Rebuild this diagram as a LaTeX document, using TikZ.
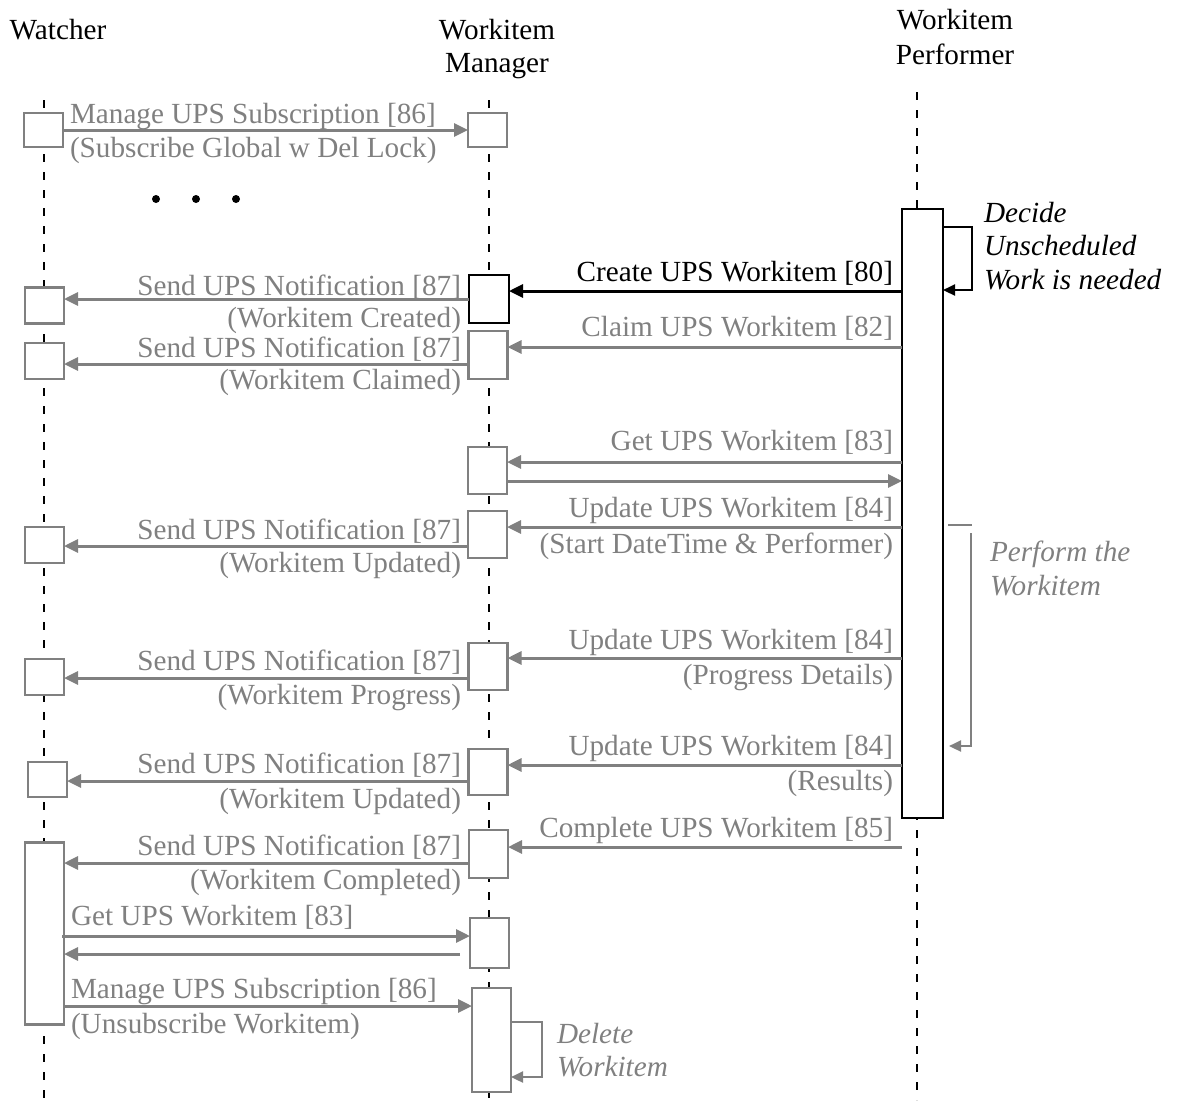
\documentclass[tikz,border=0pt]{standalone}
\usepackage{fontspec}
\setmainfont{Liberation Serif}
\usetikzlibrary{arrows.meta}
\definecolor{gr}{RGB}{128,128,128}
\begin{document}
\begin{tikzpicture}[x=0.5pt,y=-0.5pt,
  every node/.style={inner sep=0pt, outer sep=0pt},
  lbl/.style={font=\fontsize{14.6}{17}\selectfont},
  glbl/.style={lbl, text=gr},
  note/.style={lbl, font=\fontsize{14.6}{17}\selectfont\itshape, anchor=base west},
  gbox/.style={draw=gr, fill=white, line width=1.2pt, minimum width=19.5pt},
  bbox/.style={draw=black, fill=white, line width=1.2pt, minimum width=20pt},
  garr/.style={draw=gr, line width=1.5pt, -{Triangle[length=7pt,width=6.5pt]}},
  barr/.style={draw=black, line width=1.5pt, -{Triangle[length=7pt,width=6.5pt]}},
  gloop/.style={draw=gr, line width=1.1pt, -{Triangle[length=6pt,width=5.5pt]}},
  bloop/.style={draw=black, line width=1.1pt, -{Triangle[length=6pt,width=5.5pt]}},
  lifeline/.style={draw=black, line width=0.9pt, dash pattern=on 4pt off 5pt},
  dotn/.style={circle, fill=black, minimum size=4pt}
]
\useasboundingbox (0,0) rectangle (1177,1100);

% headers
\node[lbl, anchor=base] (hW) at (58,39) {Watcher};
\node[lbl, anchor=base] (hM1) at (497,39) {Workitem};
\node[lbl, anchor=base] (hM2) at (497,72) {Manager};
\node[lbl, anchor=base] (hP1) at (955,29) {Workitem};
\node[lbl, anchor=base] (hP2) at (955,64) {Performer};

% lifelines
\coordinate (wtop) at (44,100); \coordinate (wbot) at (44,1100);
\coordinate (mtop) at (489,100); \coordinate (mbot) at (489,1100);
\coordinate (ptop) at (917,92); \coordinate (pbot) at (917,1100);
\draw[lifeline] (wtop) -- (wbot);
\draw[lifeline] (mtop) -- (mbot);
\draw[lifeline] (ptop) -- (pbot);

% activation boxes
\node[gbox, minimum height=17pt] (w1) at (43.5,130) {};
\node[gbox, minimum height=17pt] (m1) at (487.5,130) {};
\node[bbox, minimum height=24pt] (m2) at (489,299) {};
\node[gbox, minimum height=18pt] (w2) at (44.5,305.5) {};
\node[gbox, minimum height=24pt] (m3) at (488,355) {};
\node[gbox, minimum height=18pt] (w3) at (44.5,361) {};
\node[gbox, minimum height=23.5pt] (m4) at (487.5,470.5) {};
\node[gbox, minimum height=23.5pt] (m5) at (487.5,534.5) {};
\node[gbox, minimum height=18pt] (w4) at (44.5,545) {};
\node[gbox, minimum height=23.5pt] (m6) at (488,666.5) {};
\node[gbox, minimum height=18pt] (w5) at (44.5,677) {};
\node[gbox, minimum height=23pt] (m7) at (488,772) {};
\node[gbox, minimum height=17.5pt] (w6) at (47.5,779.5) {};
\node[gbox, minimum height=24pt] (m8) at (488.5,854) {};
\node[gbox, minimum height=91pt] (w7) at (44.5,933.5) {};
\node[gbox, minimum height=25pt] (m9) at (489.5,943) {};
\node[gbox, minimum height=52pt] (m10) at (491.5,1040) {};
\node[bbox, minimum width=20.5pt, minimum height=304.5pt] (pbox) at (922.5,513.5) {};

% dots
\node[dotn] (d1) at (156,199) {};
\node[dotn] (d2) at (196,199) {};
\node[dotn] (d3) at (236,199) {};

% messages
\draw[garr] (w1.east |- 0,130) -- (m1.west |- 0,130);
\draw[barr] (pbox.west |- 0,291) -- (m2.east |- 0,291);
\draw[garr] (m2.west |- 0,299) -- (w2.east |- 0,299);
\draw[garr] (pbox.west |- 0,347) -- (m3.east |- 0,347);
\draw[garr] (m3.west |- 0,364) -- (w3.east |- 0,364);
\draw[garr] (pbox.west |- 0,462) -- (m4.east |- 0,462);
\draw[garr] (m4.east |- 0,481) -- (pbox.west |- 0,481);
\draw[garr] (pbox.west |- 0,527) -- (m5.east |- 0,527);
\draw[garr] (m5.west |- 0,546) -- (w4.east |- 0,546);
\draw[garr] (pbox.west |- 0,658) -- (m6.east |- 0,658);
\draw[garr] (m6.west |- 0,678) -- (w5.east |- 0,678);
\draw[garr] (pbox.west |- 0,765) -- (m7.east |- 0,765);
\draw[garr] (m7.west |- 0,781) -- (w6.east |- 0,781);
\draw[garr] (pbox.west |- 0,847) -- (m8.east |- 0,847);
\draw[garr] (m8.west |- 0,863) -- (w7.east |- 0,863);
\draw[garr] ([xshift=-1pt]w7.east |- 0,936) -- (m9.west |- 0,936);
\draw[garr, shorten <=5pt] (m9.west |- 0,954) -- (w7.east |- 0,954);
\draw[garr] (w7.east |- 0,1006) -- (m10.west |- 0,1006);

% self loops
\coordinate (l1) at (972,227); \coordinate (l2) at (972,290);
\draw[bloop] (pbox.east |- l1) -- (l1) -- (l2) -- (pbox.east |- l2);
\coordinate (pf0) at (948,525); \coordinate (pf1) at (972,525);
\coordinate (pf2) at (971,533); \coordinate (pf3) at (971,746);
\draw[draw=gr, line width=1.1pt] (pf0) -- (pf1);
\draw[gloop] (pf2) -- (pf3) -- ([xshift=3pt]pbox.east |- pf3);
\coordinate (dl1) at (542,1022); \coordinate (dl2) at (542,1077);
\draw[gloop] (m10.east |- dl1) -- (dl1) -- (dl2) -- (m10.east |- dl2);

% labels
\node[glbl, anchor=base west] (t1a) at (70,123) {Manage UPS Subscription [86]};
\node[glbl, anchor=base west] (t1b) at (70,157) {(Subscribe Global w Del Lock)};
\node[lbl, anchor=base east] (t2) at (893,281) {Create UPS Workitem [80]};
\node[glbl, anchor=base east] (t3a) at (461,295) {Send UPS Notification [87]};
\node[glbl, anchor=base east] (t3b) at (461,327) {(Workitem Created)};
\node[glbl, anchor=base east] (t4) at (893,336) {Claim UPS Workitem [82]};
\node[glbl, anchor=base east] (t5a) at (461,357) {Send UPS Notification [87]};
\node[glbl, anchor=base east] (t5b) at (461,389) {(Workitem Claimed)};
\node[glbl, anchor=base east] (t6) at (893,450) {Get UPS Workitem [83]};
\node[glbl, anchor=base east] (t7a) at (893,517) {Update UPS Workitem [84]};
\node[glbl, anchor=base east] (t7b) at (893,553) {(Start DateTime \& Performer)};
\node[glbl, anchor=base east] (t8a) at (461,539) {Send UPS Notification [87]};
\node[glbl, anchor=base east] (t8b) at (461,572) {(Workitem Updated)};
\node[glbl, anchor=base east] (t9a) at (893,649) {Update UPS Workitem [84]};
\node[glbl, anchor=base east] (t9b) at (893,684) {(Progress Details)};
\node[glbl, anchor=base east] (t10a) at (461,670) {Send UPS Notification [87]};
\node[glbl, anchor=base east] (t10b) at (461,704) {(Workitem Progress)};
\node[glbl, anchor=base east] (t11a) at (893,755) {Update UPS Workitem [84]};
\node[glbl, anchor=base east] (t11b) at (893,790) {(Results)};
\node[glbl, anchor=base east] (t12a) at (461,773) {Send UPS Notification [87]};
\node[glbl, anchor=base east] (t12b) at (461,808) {(Workitem Updated)};
\node[glbl, anchor=base east] (t13) at (893,837) {Complete UPS Workitem [85]};
\node[glbl, anchor=base east] (t14a) at (461,855) {Send UPS Notification [87]};
\node[glbl, anchor=base east] (t14b) at (461,889) {(Workitem Completed)};
\node[glbl, anchor=base west] (t15) at (71,925) {Get UPS Workitem [83]};
\node[glbl, anchor=base west] (t16a) at (71,998) {Manage UPS Subscription [86]};
\node[glbl, anchor=base west] (t16b) at (71,1033) {(Unsubscribe Workitem)};

% notes
\node[note] (n1) at (984,222) {Decide};
\node[note] (n2) at (984,255) {Unscheduled};
\node[note] (n3) at (984,289) {Work is needed};
\node[note, text=gr] (n4) at (990,561) {Perform the};
\node[note, text=gr] (n5) at (990,595) {Workitem};
\node[note, text=gr] (n6) at (557,1043) {Delete};
\node[note, text=gr] (n7) at (557,1076) {Workitem};
\end{tikzpicture}
\end{document}
